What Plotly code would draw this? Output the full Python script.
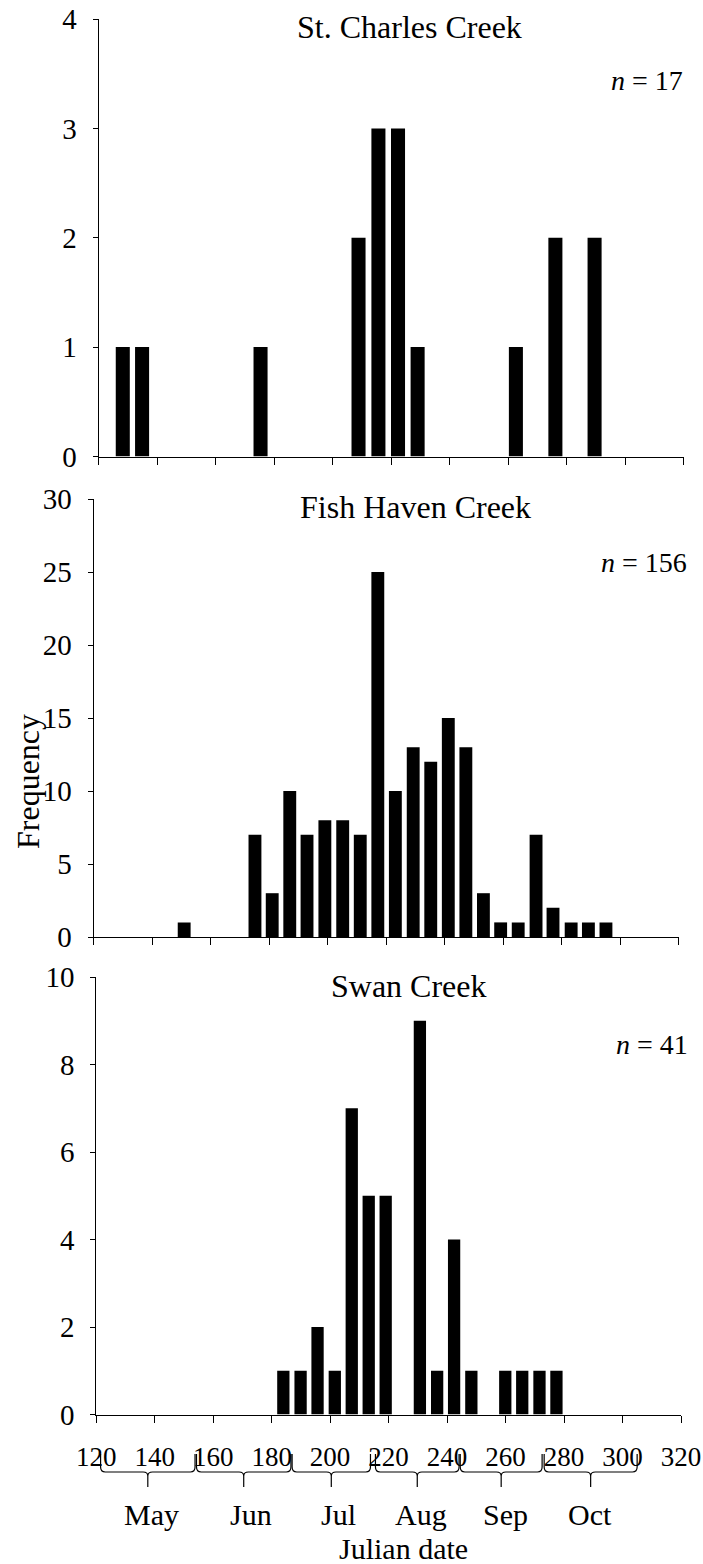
import plotly.graph_objects as go

# ---------------- data ----------------
st_charles_day = [128.3, 134.9, 175.4, 208.9, 215.7, 222.4, 229.1, 262.7, 276.2, 289.6]
st_charles_freq = [1, 1, 1, 2, 3, 3, 1, 1, 2, 2]

fish_haven_day = [151.0, 175.2, 181.1, 187.1, 193.0, 199.1, 205.2, 211.2, 217.2, 223.2, 229.3,
                  235.3, 241.3, 247.3, 253.3, 259.2, 265.2, 271.3, 277.1, 283.3, 289.2, 295.2]
fish_haven_freq = [1, 7, 3, 10, 7, 8, 8, 7, 25, 10, 13, 12, 15, 13, 3, 1, 1, 7, 2, 1, 1, 1]

swan_day = [184.0, 189.9, 195.7, 201.6, 207.4, 213.2, 219.0, 230.7, 236.6, 242.4, 248.3,
            259.9, 265.7, 271.6, 277.4]
swan_freq = [1, 1, 2, 1, 7, 5, 5, 9, 1, 4, 1, 1, 1, 1, 1]

panel_titles = ["St. Charles Creek", "Fish Haven Creek", "Swan Creek"]
panel_n = [17, 156, 41]
y_max = [4, 30, 10]
y_step = [1, 5, 2]

x_ticks = [120, 140, 160, 180, 200, 220, 240, 260, 280, 300, 320]

month_names = ["May", "Jun", "Jul", "Aug", "Sep", "Oct"]
month_start = [121.5, 154.3, 187.0, 215.5, 244.5, 273.2]
month_end = [153.8, 186.6, 213.8, 244.1, 272.5, 305.0]
month_label_day = [139.0, 173.0, 203.0, 231.0, 260.0, 289.0]

# ---------------- layout helpers ----------------
W, H = 703, 1564
def py(y):
    return 1 - y / H
def px(x):
    return x / W

FONT = "Liberation Serif, Times New Roman, serif"
BLACK = "#000000"

# pixel geometry of the three plot areas: (left, right, top, bottom)
areas = [(98.5, 683.5, 19, 456.5), (93.5, 678.5, 499, 937), (96.2, 681, 977, 1414.6)]
bar_width = [4.8, 4.4, 4.2]

series = [(st_charles_day, st_charles_freq), (fish_haven_day, fish_haven_freq), (swan_day, swan_freq)]

fig = go.Figure()
layout = dict(
    width=W, height=H, margin=dict(l=0, r=0, t=0, b=0, pad=0), autosize=False,
    paper_bgcolor="white", plot_bgcolor="white", showlegend=False,
    font=dict(family=FONT, color=BLACK),
)

for i, ((days, freqs), (l, r, t, b)) in enumerate(zip(series, areas)):
    k = "" if i == 0 else str(i + 1)
    fig.add_trace(go.Bar(x=days, y=freqs, width=bar_width[i], marker=dict(color=BLACK, line=dict(width=0)),
                         xaxis="x" + k, yaxis="y" + k))
    layout["xaxis" + k] = dict(
        domain=[px(l), px(r)], range=[120, 320], anchor="y" + k, automargin=False,
        tickmode="array", tickvals=x_ticks, ticktext=[str(v) for v in x_ticks],
        showticklabels=(i == 2), ticks="outside", ticklen=7, tickwidth=1, tickcolor=BLACK,
        showline=True, linecolor=BLACK, linewidth=1, showgrid=False, zeroline=False,
        tickfont=dict(family=FONT, size=27, color=BLACK), ticklabelstandoff=11,
    )
    layout["yaxis" + k] = dict(
        domain=[py(b), py(t)], range=[0, y_max[i]], anchor="x" + k, automargin=False,
        tickmode="linear", tick0=0, dtick=y_step[i],
        ticks="outside", ticklen=5, tickwidth=1, tickcolor=BLACK,
        showline=True, linecolor=BLACK, linewidth=1, showgrid=False, zeroline=False,
        tickfont=dict(family=FONT, size=29, color=BLACK), ticklabelstandoff=10,
    )

annotations = []
title_pos = [(409.5, 27), (415, 507), (409, 986)]
n_pos = [(685, 81), (689, 562), (690, 1044)]
for i in range(3):
    annotations.append(dict(text=panel_titles[i], xref="paper", yref="paper",
                            x=px(title_pos[i][0]), y=py(title_pos[i][1]), xanchor="center", yanchor="middle",
                            showarrow=False, font=dict(family=FONT, size=32, color=BLACK)))
    annotations.append(dict(text="<i>n</i> = %d" % panel_n[i], xref="paper", yref="paper",
                            x=px(n_pos[i][0]), y=py(n_pos[i][1]), xanchor="right", yanchor="middle",
                            showarrow=False, font=dict(family=FONT, size=28, color=BLACK)))

annotations.append(dict(text="Frequency", xref="paper", yref="paper", x=px(28), y=py(782),
                        xanchor="center", yanchor="middle", textangle=-90, showarrow=False,
                        font=dict(family=FONT, size=32, color=BLACK)))
annotations.append(dict(text="Julian date", xref="paper", yref="paper", x=px(404), y=py(1548),
                        xanchor="center", yanchor="middle", showarrow=False,
                        font=dict(family=FONT, size=30, color=BLACK)))

# month braces (x in Julian date of bottom axis, y in paper)
Y_TOP, Y_CORNER, Y_LINE, Y_TIP_START, Y_TIP = 1454, 1467, 1472, 1476, 1487
shapes = []
rr = 1.6
for name, s, e, ld in zip(month_names, month_start, month_end, month_label_day):
    m = (s + e) / 2
    path = (f"M {s},{py(Y_TOP)} L {s},{py(Y_CORNER)} Q {s},{py(Y_LINE)} {s+rr},{py(Y_LINE)} "
            f"L {m-rr},{py(Y_LINE)} Q {m},{py(Y_LINE)} {m},{py(Y_TIP_START)} L {m},{py(Y_TIP)} "
            f"L {m},{py(Y_TIP_START)} Q {m},{py(Y_LINE)} {m+rr},{py(Y_LINE)} "
            f"L {e-rr},{py(Y_LINE)} Q {e},{py(Y_LINE)} {e},{py(Y_CORNER)} L {e},{py(Y_TOP)}")
    shapes.append(dict(type="path", path=path, xref="x3", yref="paper",
                       line=dict(color=BLACK, width=1.2)))
    annotations.append(dict(text=name, xref="x3", yref="paper", x=ld, y=py(1514),
                            xanchor="center", yanchor="middle", showarrow=False,
                            font=dict(family=FONT, size=30, color=BLACK)))

layout["annotations"] = annotations
layout["shapes"] = shapes
fig.update_layout(**layout)
fig.write_html("out.html", config={"responsive": False},
               post_script="document.body.style.margin='0';document.body.style.overflow='hidden';")
